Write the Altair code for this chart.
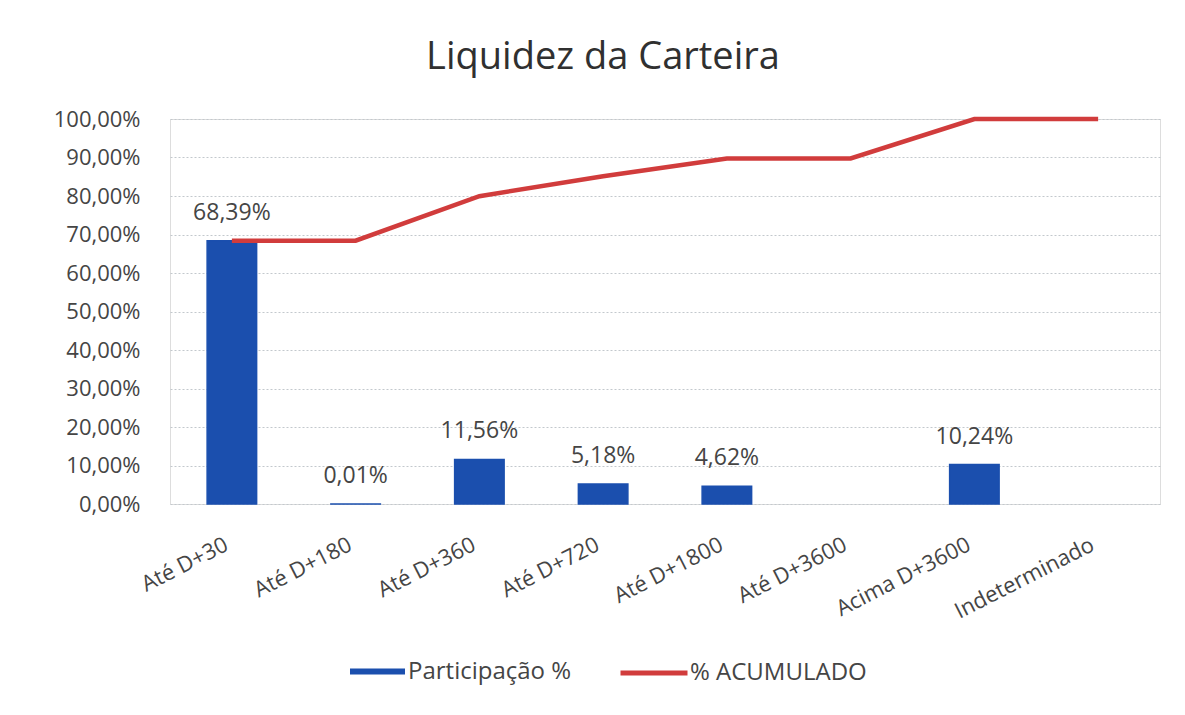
import altair as alt
import pandas as pd

categorias = ["Até D+30", "Até D+180", "Até D+360", "Até D+720", "Até D+1800",
              "Até D+3600", "Acima D+3600", "Indeterminado"]
participacao = [68.39, 0.01, 11.56, 5.18, 4.62, 0.0, 10.24, 0.0]
acumulado = [68.39, 68.40, 79.96, 85.14, 89.76, 89.76, 100.00, 100.00]
rotulos = ["68,39%", "0,01%", "11,56%", "5,18%", "4,62%", "", "10,24%", ""]
y_ticks = [0, 10, 20, 30, 40, 50, 60, 70, 80, 90, 100]

df = pd.DataFrame({
    "categoria": categorias,
    "participacao": participacao,
    "acumulado": acumulado,
    "rotulo": rotulos,
    "s1": ["Participação %"] * len(categorias),
    "s2": ["% ACUMULADO"] * len(categorias),
})

FONT = "Open Sans"
TXT = "#454545"
BLUE = "#1b4fae"
RED = "#d13c3c"

x = alt.X("categoria:N", sort=categorias, title=None,
          scale=alt.Scale(paddingInner=0.6, paddingOuter=0.3),
          axis=alt.Axis(labelAngle=-27, labelAlign="right", labelBaseline="top",
                        labelPadding=30, labelOffset=-10, labelFontSize=22,
                        labelColor=TXT, labelFont=FONT, labelOverlap=False,
                        ticks=False, domain=False))

y_axis = alt.Axis(values=y_ticks, tickCount=11, title=None, labelFontSize=22, labelColor=TXT,
                  labelFont=FONT, labelPadding=30, labelOverlap=False,
                  ticks=False, domain=False,
                  grid=True, gridColor="#c3c8cd", gridDash=[2, 2], gridWidth=1,
                  labelExpr="replace(format(datum.value, '.2f'), '.', ',') + '%'")
y_scale = alt.Scale(domain=[0, 100], nice=False)

base = alt.Chart(df)

bars = base.mark_bar(stroke=BLUE).encode(
    x=x,
    y=alt.Y("participacao:Q", scale=y_scale, axis=y_axis),
    fill=alt.Fill("s1:N", scale=alt.Scale(domain=["Participação %"], range=[BLUE]),
                  legend=alt.Legend(title=None, orient="none", legendX=180, legendY=525,
                                    symbolType="M-1,-0.11L1,-0.11L1,0.11L-1,0.11Z",
                                    symbolSize=3025, symbolStrokeWidth=0,
                                    labelFontSize=24, labelColor=TXT, labelFont=FONT,
                                    labelOffset=3, labelLimit=400, padding=0)),
    strokeWidth=alt.condition("datum.participacao > 0", alt.value(1.5), alt.value(0)),
)

labels = base.mark_text(baseline="middle", dy=-28, fontSize=23, font=FONT, color=TXT).encode(
    x=x,
    y=alt.Y("participacao:Q", scale=y_scale, axis=y_axis),
    text="rotulo:N",
)

line = base.mark_line(strokeWidth=4.5).encode(
    x=x,
    y=alt.Y("acumulado:Q", scale=y_scale, axis=y_axis),
    stroke=alt.Stroke("s2:N", scale=alt.Scale(domain=["% ACUMULADO"], range=[RED]),
                      legend=alt.Legend(title=None, orient="none", legendX=448, legendY=518,
                                        symbolType="stroke", symbolSize=4489,
                                        symbolStrokeWidth=5,
                                        labelFontSize=24, labelColor=TXT, labelFont=FONT,
                                        labelOffset=0, labelLimit=400, padding=0)),
)

chart = alt.layer(bars, labels, line).properties(
    width=990, height=385,
    padding={"left": 162, "top": 111, "right": 9, "bottom": 203},
    autosize=alt.AutoSizeParams(type="none"),
    title=alt.TitleParams("Liquidez da Carteira", font=FONT, fontSize=38,
                          fontWeight="normal", color="#303030", anchor="middle",
                          dx=-62, offset=1, baseline="alphabetic"),
).configure_view(stroke=None).configure(background="white")

chart.save("out.html", embed_options={"renderer": "svg", "actions": False})
